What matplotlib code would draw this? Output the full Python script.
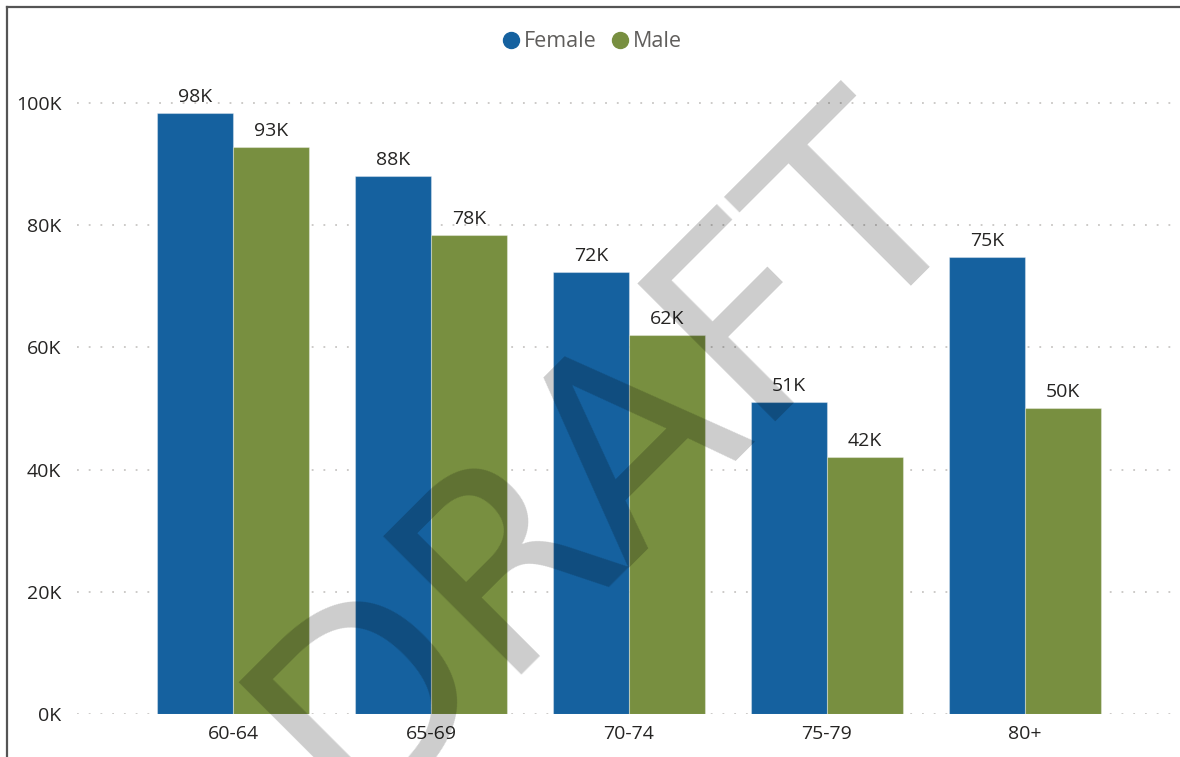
"""
Population by age band and sex, clustered column chart.
"""
import matplotlib

matplotlib.use("Agg")
import numpy as np
from matplotlib import pyplot as plt
from matplotlib.lines import Line2D
from matplotlib.ticker import FuncFormatter

AGE_BANDS = ["60-64", "65-69", "70-74", "75-79", "80+"]
FEMALE = [98400, 88000, 72400, 51100, 74800]
MALE = [92800, 78400, 62000, 42100, 50100]
SERIES = ["Female", "Male"]

BLUE = "#15619F"
GREEN = "#788F40"
TEXT = "#252423"
LEGEND_TEXT = "#605E5C"
GRID = "#C8C6C4"

plt.rcParams["font.family"] = ["Open Sans", "DejaVu Sans"]

fig = plt.figure(figsize=(11.8, 7.57), dpi=100)
ax = fig.add_axes([0.0649, 0.0568, 0.9363, 0.8476])

x = np.arange(len(AGE_BANDS))
width = 0.384
edge = (1, 1, 1, 0.35)
female_bars = ax.bar(x - width / 2, FEMALE, width, color=BLUE, edgecolor=edge,
                     linewidth=0.8, zorder=2)
male_bars = ax.bar(x + width / 2, MALE, width, color=GREEN, edgecolor=edge,
                   linewidth=0.8, zorder=2)

for bars in (female_bars, male_bars):
    for bar in bars:
        value = bar.get_height()
        ax.annotate(f"{round(value / 1000)}K",
                    (bar.get_x() + bar.get_width() / 2, value),
                    xytext=(0, 5), textcoords="offset points",
                    ha="center", va="bottom", fontsize=14, color=TEXT)

ax.set_xlim(-0.79, 4.79)
ax.set_ylim(0, 105000)
ax.set_yticks(np.arange(0, 100001, 20000))
ax.yaxis.set_major_formatter(FuncFormatter(lambda v, _: f"{v / 1000:.0f}K"))
ax.set_xticks(x, AGE_BANDS)
ax.tick_params(axis="both", length=0, labelsize=14, labelcolor=TEXT)
ax.tick_params(axis="y", pad=11)
ax.tick_params(axis="x", pad=8)
ax.grid(axis="y", color=GRID, linestyle=(0, (1, 5.5)), linewidth=1.3, zorder=0)
ax.grid(axis="x", visible=False)
for spine in ax.spines.values():
    spine.set_visible(False)

handles = [
    Line2D([], [], marker="o", linestyle="", markersize=11.5, color=BLUE),
    Line2D([], [], marker="o", linestyle="", markersize=11.5, color=GREEN),
]
fig.legend(handles, SERIES, loc="center", bbox_to_anchor=(0.5, 0.945),
           ncol=2, frameon=False, fontsize=15.5, labelcolor=LEGEND_TEXT,
           handletextpad=0.0, columnspacing=0.5, handlelength=1.2)

# visual border (top and left edges)
fig.add_artist(Line2D([7 / 1180, 1], [1 - 7 / 757, 1 - 7 / 757],
                      color="#555555", linewidth=1.6))
fig.add_artist(Line2D([7 / 1180, 7 / 1180], [0, 1 - 7 / 757],
                      color="#555555", linewidth=1.6))

# draft watermark
fig.text(0.516, 0.396, "DRAFT", fontsize=193, color="black", alpha=0.2,
         rotation=45, ha="center", va="center", rotation_mode="anchor",
         family=["DejaVu Sans"], zorder=10)

fig.savefig("out.png", dpi=100)
